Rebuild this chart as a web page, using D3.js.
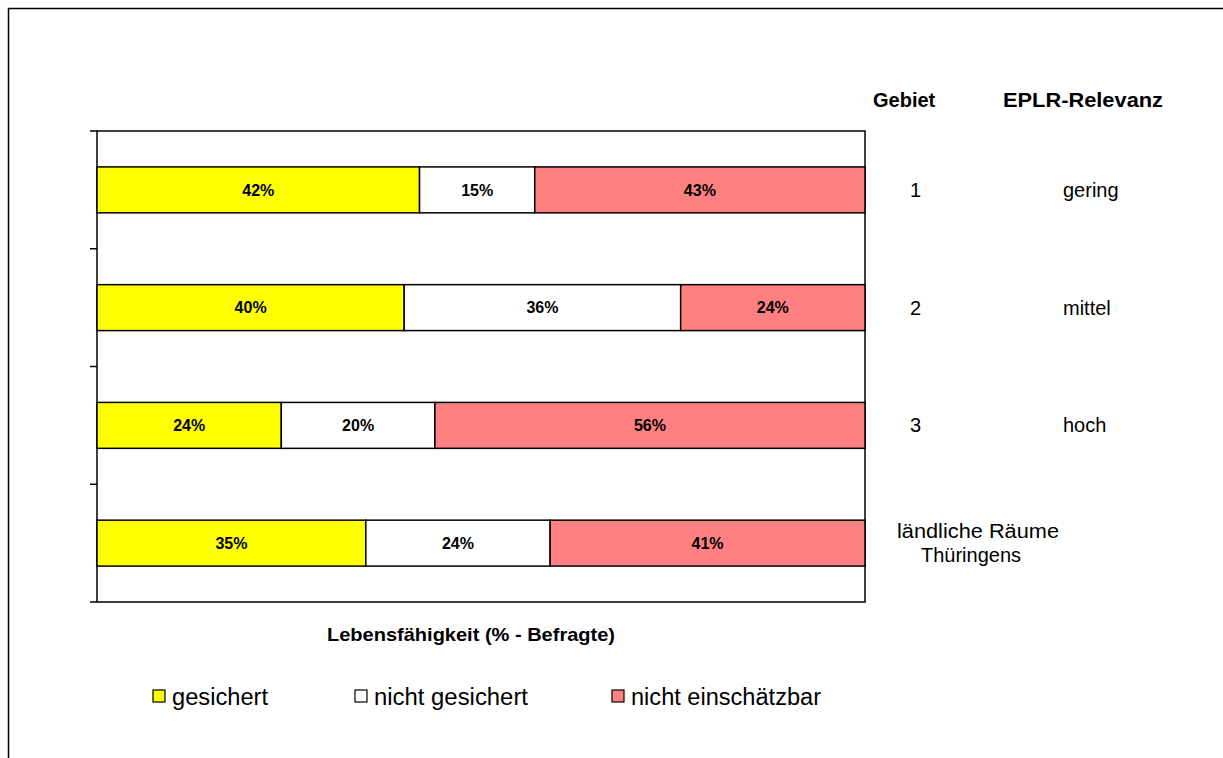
<!DOCTYPE html>
<html><head><meta charset="utf-8">
<script src="https://cdn.jsdelivr.net/npm/d3@7"></script>
<style>body{margin:0;background:#fff;} text{font-family:"Liberation Sans",Arial,sans-serif;}</style>
</head><body>
<svg id="c" width="1223" height="758"></svg>
<script>
const categories = ["1", "2", "3", "ländliche Räume Thüringens"];
const relevanz = ["gering", "mittel", "hoch", ""];
const seriesNames = ["gesichert", "nicht gesichert", "nicht einschätzbar"];
const gesichert = [42, 40, 24, 35];
const nichtGesichert = [15, 36, 20, 24];
const nichtEinschaetzbar = [43, 24, 56, 41];
const colors = ["#ffff00", "#ffffff", "#ff8080"];

const svg = d3.select("#c");
svg.append("path").attr("d","M8.5,760 V8.5 H1230").attr("fill","none").attr("stroke","#000").attr("stroke-width",1.5);

const L=97, R=865, T=131, B=602;
const x = d3.scaleLinear().domain([0,100]).range([L,R]);
const y = d3.scaleBand().domain(categories).range([T,B]).paddingInner(0.61).paddingOuter(0.305);
const yb = d3.scaleBand().domain(categories).range([T,B]);

const rows = categories.map((c,i)=>({cat:c, vals:[gesichert[i], nichtGesichert[i], nichtEinschaetzbar[i]]}));
const data = rows.flatMap(r=>{let acc=0; return r.vals.map((v,k)=>{const d={cat:r.cat,k,v,x0:acc,x1:acc+v}; acc+=v; return d;});});

svg.append("rect").attr("x",L).attr("y",T).attr("width",R-L).attr("height",B-T).attr("fill","#fff").attr("stroke","#000").attr("stroke-width",1.5);

const g = svg.append("g");
g.selectAll("rect.bar").data(data).join("rect").attr("class","bar")
 .attr("x",d=>x(d.x0)).attr("y",d=>y(d.cat)).attr("width",d=>x(d.x1)-x(d.x0)).attr("height",y.bandwidth())
 .attr("fill",d=>colors[d.k]).attr("stroke","#000").attr("stroke-width",1.5);
g.selectAll("text.lbl").data(data).join("text").attr("class","lbl")
 .attr("x",d=>(x(d.x0)+x(d.x1))/2).attr("y",d=>y(d.cat)+y.bandwidth()/2).attr("dy","0.36em")
 .attr("text-anchor","middle").attr("font-weight","bold").attr("font-size",16).text(d=>d.v+"%");

const tickVals = d3.range(categories.length+1).map(i=>T+i*yb.step());
svg.selectAll("line.tk").data(tickVals).join("line").attr("class","tk")
 .attr("x1",L-7).attr("x2",L).attr("y1",d=>d).attr("y2",d=>d).attr("stroke","#000").attr("stroke-width",1.5);

function txt(s,x0,yy,size,len,bold){
  const t = svg.append("text").attr("x",x0).attr("y",yy).attr("font-size",size).text(s);
  if(bold) t.attr("font-weight","bold");
  if(len) t.attr("textLength",len).attr("lengthAdjust","spacingAndGlyphs");
  return t;
}
txt("Gebiet",873,107,20,null,true);
txt("EPLR-Relevanz",1003,107,20,160,true);
categories.forEach((c,i)=>{
  const cy = y(c)+y.bandwidth()/2;
  if(i<3){
    txt(c,910,cy+7,20,null,false);
    txt(relevanz[i],1063,cy+7,20,null,false);
  } else {
    txt("ländliche Räume",897,cy-5,20,162,false);
    txt("Thüringens",921,cy+19,20,null,false);
  }
});

txt("Lebensfähigkeit (% - Befragte)",327,641,19,288,true);

const legX=[153,355,612];
const legLen=[96,154,190];
seriesNames.forEach((n,i)=>{
  svg.append("rect").attr("x",legX[i]).attr("y",690).attr("width",12).attr("height",12).attr("fill",colors[i]).attr("stroke","#000").attr("stroke-width",1.2);
  txt(n,legX[i]+19,705,23,legLen[i],false);
});
</script>
</body></html>
